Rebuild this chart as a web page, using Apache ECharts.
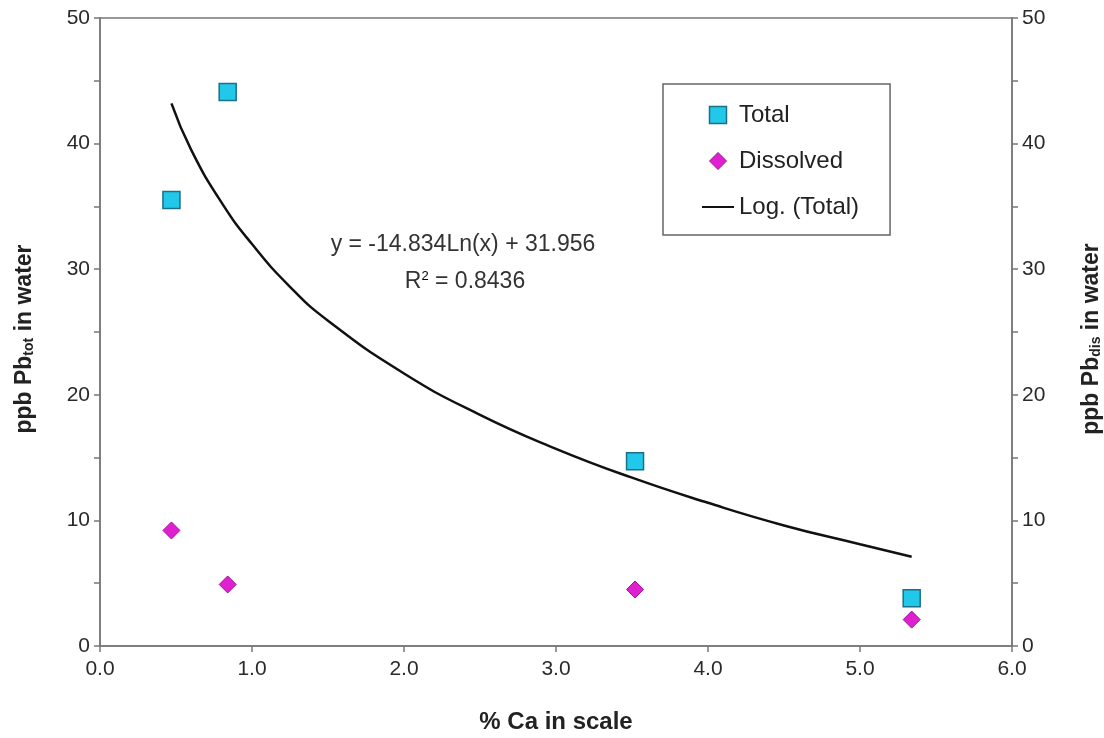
<!DOCTYPE html>
<html><head><meta charset="utf-8">
<script src="https://cdn.jsdelivr.net/npm/echarts@6/dist/echarts.min.js"></script>
<style>html,body{margin:0;padding:0;background:#fff}#c{width:1104px;height:738px}</style>
</head><body><div id="c"></div>
<script>
// Data
const caPct = [0.47, 0.84, 3.52, 5.34];
const totalPb = [35.5, 44.1, 14.7, 3.8];
const dissolvedPb = [9.2, 4.9, 4.5, 2.1];
// Trend line (Log. (Total))
const trendX = [0.47, 0.6, 0.8, 1.0, 1.25, 1.5, 2.0, 2.5, 3.0, 3.5, 4.0, 4.5, 5.0, 5.34];
const trendY = [43.2, 39.5, 35.3, 32.0, 28.6, 25.9, 21.7, 18.4, 15.7, 13.4, 11.4, 9.6, 8.1, 7.1];
const xTicks = [0, 1, 2, 3, 4, 5, 6];
const yTicks = [0, 10, 20, 30, 40, 50];
const equationText = 'y = -14.834Ln(x) + 31.956';
const r2Text = '0.8436';

const FONT = 'Liberation Sans, Arial, sans-serif';
const chart = echarts.init(document.getElementById('c'));
const yAxisCommon = {
  type: 'value', min: 0, max: 50, interval: 5,
  axisLine: {show: true, lineStyle: {color: '#777', width: 1.5}},
  axisTick: {show: true, length: 6, lineStyle: {color: '#777', width: 1.5}},
  splitLine: {show: false},
  axisLabel: {color: '#2a2a2a', fontSize: 21, fontFamily: FONT, margin: 10,
    formatter: v => yTicks.indexOf(v) >= 0 ? String(v) : ''},
  nameLocation: 'middle', nameRotate: 90,
  nameTextStyle: {padding: [0, 14, 0, 0], rich: {
    a: {fontSize: 23, fontWeight: 'bold', fontFamily: FONT, color: '#222'},
    b: {fontSize: 14, fontWeight: 'bold', fontFamily: FONT, color: '#222', verticalAlign: 'bottom'}
  }}
};
chart.setOption({
  animation: false,
  backgroundColor: '#fff',
  grid: {left: 100, right: 92, top: 18, bottom: 92, containLabel: false, outerBoundsMode: 'none',
    show: true, borderColor: '#777', borderWidth: 1.5, backgroundColor: 'transparent'},
  xAxis: {
    type: 'value', min: 0, max: 6, interval: 1,
    axisLine: {show: true, onZero: false, lineStyle: {color: '#777', width: 1.5}},
    axisTick: {show: true, length: 6, lineStyle: {color: '#777', width: 1.5}},
    splitLine: {show: false},
    axisLabel: {color: '#2a2a2a', fontSize: 21, fontFamily: FONT, margin: 13,
      formatter: v => xTicks.indexOf(v) >= 0 ? v.toFixed(1) : ''},
    name: '% Ca in scale', nameLocation: 'middle', nameGap: 64,
    nameTextStyle: {fontSize: 24, fontWeight: 'bold', fontFamily: FONT, color: '#222'}
  },
  yAxis: [
    Object.assign({}, yAxisCommon, {position: 'left', nameGap: 64,
      name: '{a|ppb Pb}{b|tot}{a| in water}'}),
    Object.assign({}, yAxisCommon, {position: 'right', nameGap: 68,
      name: '{a|ppb Pb}{b|dis}{a| in water}'})
  ],
  legend: {
    orient: 'vertical', left: 663, top: 84,
    padding: [19, 31, 16, 39], itemGap: 22,
    borderColor: '#666', borderWidth: 1.5, backgroundColor: '#fff', borderRadius: 0,
    textStyle: {fontSize: 24, fontFamily: FONT, color: '#222'},
    itemWidth: 32, itemHeight: 17, symbolKeepAspect: true,
    data: [
      {name: 'Total', icon: 'path://M0,0 L17,0 L17,17 L0,17 Z',
        itemStyle: {color: '#22C8EA', borderColor: '#1B6F86', borderWidth: 1.5}},
      {name: 'Dissolved', icon: 'path://M8,0 L16,8 L8,16 L0,8 Z',
        itemStyle: {color: '#E020D0', borderColor: '#A0109A', borderWidth: 1}},
      {name: 'Log. (Total)', icon: 'path://M0,0 L32,0 L32,2 L0,2 Z',
        itemStyle: {color: '#111', borderWidth: 0}}
    ]
  },
  series: [
    {name: 'Log. (Total)', type: 'line', smooth: true, showSymbol: false, symbol: 'none',
      data: trendX.map((x, i) => [x, trendY[i]]),
      lineStyle: {color: '#111', width: 2.5}, itemStyle: {color: '#111'}, z: 2},
    {name: 'Total', type: 'scatter', symbol: 'rect', symbolSize: 17,
      data: caPct.map((x, i) => [x, totalPb[i]]),
      itemStyle: {color: '#22C8EA', borderColor: '#1B6F86', borderWidth: 1.5, opacity: 1}, z: 3},
    {name: 'Dissolved', type: 'scatter', symbol: 'diamond', symbolSize: 17, yAxisIndex: 1,
      data: caPct.map((x, i) => [x, dissolvedPb[i]]),
      itemStyle: {color: '#E020D0', borderColor: '#A0109A', borderWidth: 1, opacity: 1}, z: 3}
  ],
  graphic: [
    {type: 'text', x: 463, y: 245, style: {text: equationText, fontSize: 23, fontFamily: FONT, fill: '#333',
      align: 'center', verticalAlign: 'middle'}},
    {type: 'text', x: 465, y: 282, style: {
      text: '{a|R}{s|2}{a| = ' + r2Text + '}', align: 'center', verticalAlign: 'middle',
      rich: {a: {fontSize: 23, fontFamily: FONT, fill: '#333', color: '#333'},
             s: {fontSize: 13, fontFamily: FONT, color: '#333', verticalAlign: 'top', padding: [0,0,12,0]}}}}
  ]
});
</script></body></html>
